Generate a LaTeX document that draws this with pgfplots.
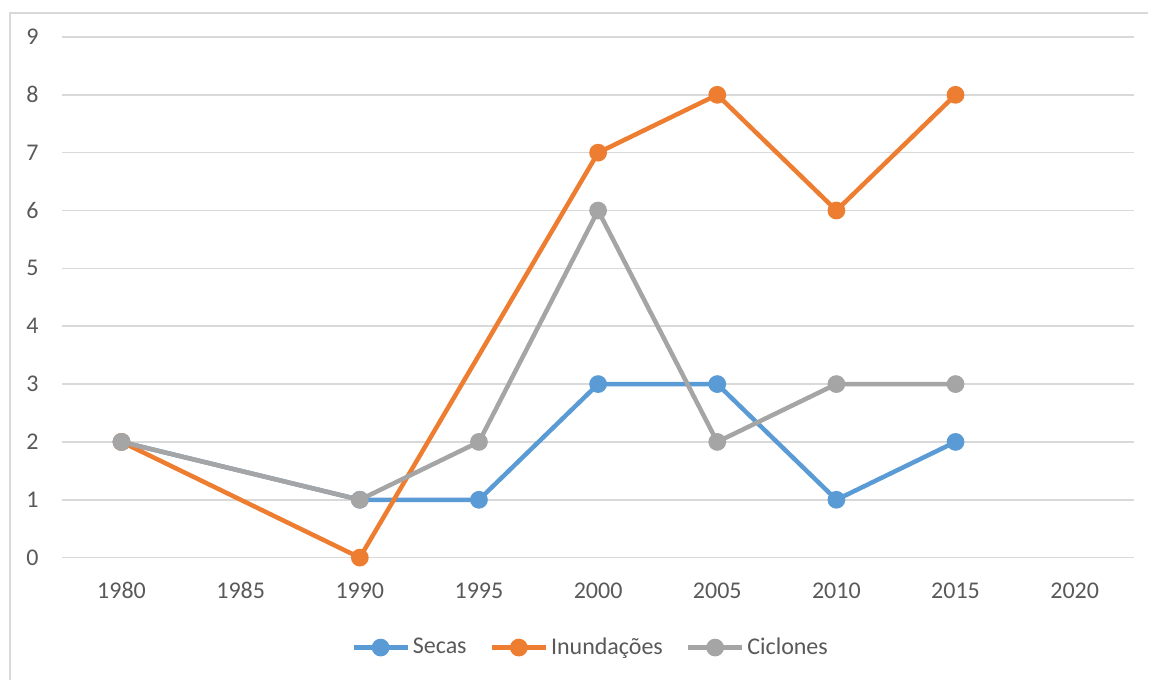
\documentclass[border=0pt]{standalone}
\usepackage{fontspec}
\setmainfont{Carlito}
\usepackage{pgfplots}
\pgfplotsset{compat=1.18}
\definecolor{cblue}{HTML}{5B9BD5}
\definecolor{corange}{HTML}{ED7D31}
\definecolor{cgray}{HTML}{A5A5A5}
\definecolor{gridc}{HTML}{D9D9D9}
\definecolor{txt}{HTML}{595959}
\begin{document}
\begin{tikzpicture}
\fontsize{12}{14}\selectfont
\path (0,0) rectangle (574.5pt,340pt);
\draw[gridc, line width=0.75pt] (5pt,0) -- (5pt,333.5pt) -- (574.5pt,333.5pt);
\begin{axis}[
  at={(31pt,61pt)}, anchor=south west,
  scale only axis, width=536.5pt, height=260.5pt,
  xmin=1977.5, xmax=2022.5, ymin=0, ymax=9,
  xtick={1980,1985,...,2020}, ytick={0,1,...,9},
  major tick length=0pt,
  axis line style={draw=none},
  xmajorgrids=false, ymajorgrids=true,
  grid style={color=gridc, line width=0.75pt},
  /pgf/number format/assume math mode=true,
  /pgf/number format/1000 sep={},
  tick label style={font=\fontsize{12}{14}\selectfont, text=txt},
  yticklabel style={anchor=east, inner sep=0pt, xshift=-11.5pt},
  xticklabel style={anchor=north, inner sep=0pt, yshift=-12.3pt},
  clip=false,
  every axis plot/.append style={line width=2.25pt, mark=*, mark size=3.3pt, mark options={solid}},
  legend style={at={(264.75pt,-45pt)}, anchor=center, draw=none, fill=none,
    legend columns=-1, font=\fontsize{12}{14}\selectfont, text=txt,
    /tikz/every even column/.append style={column sep=10pt},
    inner sep=0pt, nodes={inner sep=1.5pt}},
  legend image code/.code={\draw[mark repeat=2,mark phase=2,#1] plot coordinates {(0pt,0pt) (13.5pt,0pt) (27pt,0pt)};},
]
\addplot[cblue] coordinates {(1980,2) (1990,1) (1995,1) (2000,3) (2005,3) (2010,1) (2015,2)};
\addlegendentry{Secas}
\addplot[corange] coordinates {(1980,2) (1990,0) (2000,7) (2005,8) (2010,6) (2015,8)};
\addlegendentry{Inundações}
\addplot[cgray] coordinates {(1980,2) (1990,1) (1995,2) (2000,6) (2005,2) (2010,3) (2015,3)};
\addlegendentry{Ciclones}
\end{axis}
\end{tikzpicture}
\end{document}
